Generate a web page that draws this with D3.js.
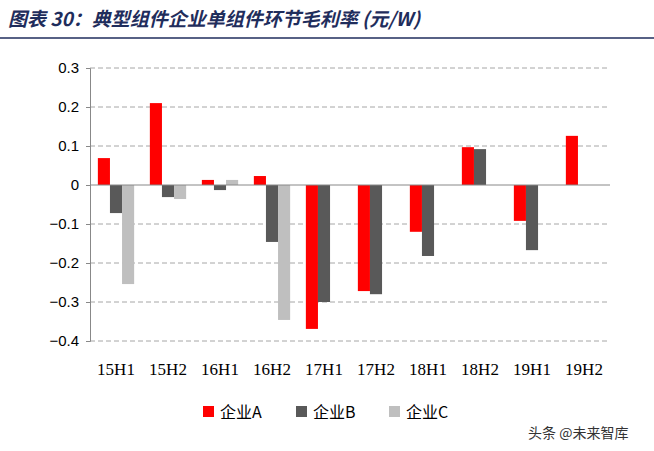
<!DOCTYPE html>
<html><head><meta charset="utf-8">
<script src="https://cdn.jsdelivr.net/npm/d3@7"></script>
<style>body{margin:0;background:#fff}</style>
</head><body>
<svg id="chart"></svg>
<script>
const categories = ["15H1","15H2","16H1","16H2","17H1","17H2","18H1","18H2","19H1","19H2"];
const seriesNames = ["企业A","企业B","企业C"];
const companyA = [0.069, 0.21, 0.013, 0.023, -0.369, -0.272, -0.12, 0.097, -0.092, 0.126];
const companyB = [-0.072, -0.031, -0.013, -0.146, -0.3, -0.28, -0.182, 0.092, -0.167, 0];
const companyC = [-0.254, -0.036, 0.013, -0.346, 0, 0, 0, 0, 0, 0];
const yTicks = [0.3, 0.2, 0.1, 0, -0.1, -0.2, -0.3, -0.4];
const colors = ["#ff0000", "#595959", "#bfbfbf"];

const width = 654, height = 451;
const svg = d3.select("#chart").attr("width", width).attr("height", height);

svg.append("text")
    .attr("x", 8).attr("y", 26)
    .attr("font-family", "Noto Sans CJK SC, sans-serif")
    .attr("font-size", "19px").attr("font-weight", "bold").attr("font-style", "italic")
    .attr("fill", "#1f2d5c")
    .text("图表 30：典型组件企业单组件环节毛利率 (元/W)");
svg.append("line").attr("x1", 0).attr("x2", width).attr("y1", 38).attr("y2", 38)
    .attr("stroke", "#1f2d5c").attr("stroke-width", 1.5);

const margin = {left: 90, right: 610, top: 68, bottom: 341};
const x = d3.scaleBand().domain(categories).range([margin.left, margin.right]);
const y = d3.scaleLinear().domain([-0.4, 0.3]).range([margin.bottom, margin.top]);
const xs = d3.scaleBand().domain(seriesNames).range([0, x.bandwidth()]).paddingInner(0).paddingOuter(0.65);

const g = svg.append("g");
g.selectAll(".grid").data(yTicks.filter(t => t !== 0)).enter().append("line")
    .attr("x1", margin.left).attr("x2", margin.right)
    .attr("y1", d => y(d)).attr("y2", d => y(d))
    .attr("stroke", "#a6a6a6").attr("stroke-dasharray", "5,3");

const yAxis = g.append("g").attr("transform", `translate(${margin.left},0)`)
    .call(d3.axisLeft(y).tickValues(yTicks).tickFormat(d => d === 0 ? "0" : d3.format(".1f")(d)).tickSize(4));
yAxis.selectAll("text").attr("font-family", "Liberation Sans, Arial").attr("font-size", "15px").attr("fill", "#000").attr("dx", "-4");
yAxis.selectAll("line,path").attr("stroke", "#888");

const series = [companyA, companyB, companyC];
series.forEach((vals, si) => {
    g.selectAll(".bar" + si).data(vals).enter().append("rect")
        .attr("x", (d, i) => x(categories[i]) + xs(seriesNames[si]))
        .attr("width", xs.bandwidth())
        .attr("y", d => y(Math.max(0, d)))
        .attr("height", d => Math.abs(y(d) - y(0)))
        .attr("fill", colors[si]);
});

g.append("line").attr("x1", margin.left).attr("x2", margin.right)
    .attr("y1", y(0)).attr("y2", y(0)).attr("stroke", "#888");

g.selectAll(".xl").data(categories).enter().append("text")
    .attr("x", d => x(d) + x.bandwidth() / 2).attr("y", 375)
    .attr("text-anchor", "middle")
    .attr("font-family", "Liberation Serif, Times New Roman").attr("font-size", "17px")
    .text(d => d);

const legend = svg.append("g");
seriesNames.forEach((n, i) => {
    const lx = 203 + i * 93;
    legend.append("rect").attr("x", lx).attr("y", 406).attr("width", 11).attr("height", 11).attr("fill", colors[i]);
    legend.append("text").attr("x", lx + 17).attr("y", 418)
        .attr("font-family", "Noto Sans CJK SC, sans-serif").attr("font-size", "16px").text(n);
});

svg.append("text").attr("x", 528).attr("y", 438)
    .attr("font-family", "Noto Sans CJK SC, sans-serif").attr("font-size", "14px")
    .attr("fill", "#333").text("头条 @未来智库");
</script>
</body></html>
